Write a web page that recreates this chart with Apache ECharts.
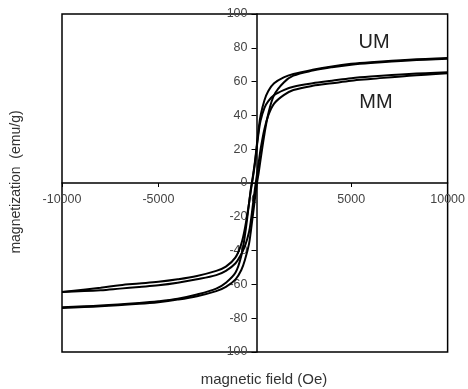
<!DOCTYPE html>
<html><head><meta charset="utf-8">
<script src="https://cdn.jsdelivr.net/npm/echarts@6/dist/echarts.min.js"></script>
<style>html,body{margin:0;padding:0;background:#fff}#c{width:468px;height:389px}</style>
</head><body><div id="c"></div>
<script>
const xTicks = [-10000, -5000, 0, 5000, 10000];
const yTicks = [-100, -80, -60, -40, -20, 0, 20, 40, 60, 80, 100];
const umDownX = [10000, 8000, 6000, 5000, 4000, 3000, 2000, 1500, 1000, 700, 500, 300, 200, 100, 0, -100, -200, -300, -500, -700, -1000, -1500, -2000, -3000, -4000, -5000, -6000, -8000, -10000];
const umDownY = [74, 73, 71.5, 70.5, 69, 67, 64.5, 62.5, 59, 54.5, 49, 40, 32, 22, 12, 4, -3, -12, -30, -43, -53, -59, -62.5, -66, -68.5, -70, -71, -72.5, -73.5];
const umUpX = [-10000, -8000, -6000, -5000, -4000, -3000, -2000, -1500, -1000, -700, -500, -300, -200, -100, 0, 100, 200, 300, 500, 700, 1000, 1500, 2000, 3000, 4000, 5000, 6000, 8000, 10000];
const umUpY = [-74, -73, -71.5, -70.5, -69, -67, -64, -61.5, -57, -51.5, -45, -36, -28, -19, -10, -1, 6, 14, 29, 41, 52, 59.5, 63.5, 66.5, 68.5, 70, 71, 72.5, 73.5];
const mmDownX = [10000, 8000, 6000, 5000, 4000, 3000, 2000, 1500, 1000, 700, 500, 300, 200, 100, 0, -100, -200, -300, -500, -700, -1000, -1500, -2000, -3000, -4000, -5000, -6000, -7000, -8000, -10000];
const mmDownY = [65.5, 64.5, 63, 62, 60.5, 59, 57, 55, 52, 48.5, 44.5, 37, 30, 21, 11, 3, -4, -12, -26, -36, -44, -49.5, -52, -55, -57, -58.5, -59.5, -60.5, -62, -64.5];
const mmUpX = [-10000, -8000, -7000, -6000, -5000, -4000, -3000, -2000, -1500, -1000, -700, -500, -300, -200, -100, 0, 100, 200, 300, 500, 700, 1000, 1500, 2000, 3000, 4000, 5000, 6000, 8000, 10000];
const mmUpY = [-64.5, -63.5, -62.5, -61.5, -60.5, -59, -57, -54.5, -52, -47.5, -42, -37, -29, -22, -13, -4, 4, 12, 20, 32, 40, 47, 52, 55, 57.5, 59, 60.5, 61.5, 63.5, 65];
const seriesNames = ['UM', 'UM', 'MM', 'MM'];
const yTitle = 'magnetization  (emu/g)';
const xTitle = 'magnetic field (Oe)';

function pairs(xs, ys){ return xs.map((x,i)=>[x, ys[i]]); }
const sets = [pairs(umDownX, umDownY), pairs(umUpX, umUpY), pairs(mmDownX, mmDownY), pairs(mmUpX, mmUpY)];

const chart = echarts.init(document.getElementById('c'), null, {renderer:'canvas'});
const font = 'Liberation Sans, Arial, sans-serif';
const G = {left:62,right:17,top:14,bottom:37};
const gw = 468 - G.left - G.right, gh = 389 - G.top - G.bottom;
chart.setOption({
  animation:false,
  backgroundColor:'#fff',
  grid:Object.assign({show:true,borderColor:'#000',borderWidth:1.5,backgroundColor:'transparent'}, G),
  xAxis:{type:'value',min:xTicks[0],max:xTicks[xTicks.length-1],interval:5000,
    position:'bottom', offset:-gh/2,
    axisLine:{onZero:false,lineStyle:{color:'#000',width:1.5}},
    axisTick:{show:true,inside:false,length:4,lineStyle:{color:'#000'}},
    axisLabel:{color:'#444',fontSize:12.5,fontFamily:font,margin:10,formatter:v=>String(v)},
    splitLine:{show:false}},
  yAxis:{type:'value',min:yTicks[0],max:yTicks[yTicks.length-1],interval:20,
    position:'left', offset:-gw/2,
    axisLine:{onZero:false,lineStyle:{color:'#000',width:1.5}},
    axisTick:{show:true,length:5,lineStyle:{color:'#000'}},
    axisLabel:{color:'#444',fontSize:12.5,fontFamily:font,margin:9,formatter:v=>String(v)},
    splitLine:{show:false}},
  series: sets.map((d,i)=>({type:'line',name:seriesNames[i],data:d,showSymbol:false,smooth:0.35,
    lineStyle:{color:'#000',width:2},z:3})),
  graphic:[
    {type:'text',x:16,y:182,rotation:Math.PI/2,style:{text:yTitle,fontSize:14,fontFamily:font,fill:'#333',align:'center',verticalAlign:'middle'}},
    {type:'text',x:264,y:380,style:{text:xTitle,fontSize:15,fontFamily:font,fill:'#333',align:'center',verticalAlign:'middle'}},
    {type:'text',x:374,y:42,style:{text:'UM',fontSize:20,fontFamily:font,fill:'#222',align:'center',verticalAlign:'middle'}},
    {type:'text',x:376,y:102,style:{text:'MM',fontSize:20,fontFamily:font,fill:'#222',align:'center',verticalAlign:'middle'}}
  ]
});
</script></body></html>
